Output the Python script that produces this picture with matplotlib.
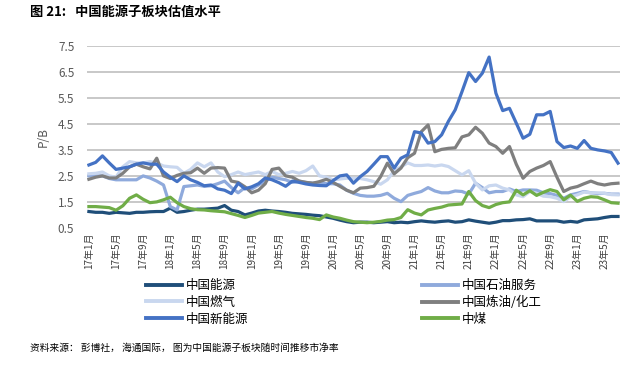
import numpy as np
import matplotlib
matplotlib.use("Agg")
import matplotlib.pyplot as plt
from matplotlib.lines import Line2D

plt.rcParams['font.family'] = ['Noto Sans CJK SC', 'DejaVu Sans']

# monthly P/B, 2017-01 .. 2023-07
energy = [1.13, 1.1, 1.1, 1.06, 1.1, 1.08, 1.06, 1.1, 1.1, 1.12, 1.13, 1.13, 1.26, 1.1, 1.13, 1.18,
          1.22, 1.22, 1.24, 1.26, 1.36, 1.18, 1.13, 1.0, 1.07, 1.15, 1.18, 1.15, 1.13, 1.1, 1.06, 1.04,
          1.02, 0.99, 0.97, 0.92, 0.87, 0.8, 0.74, 0.7, 0.72, 0.72, 0.7, 0.72, 0.74, 0.7, 0.72, 0.7,
          0.74, 0.77, 0.74, 0.72, 0.75, 0.77, 0.72, 0.74, 0.81, 0.76, 0.72, 0.68, 0.72, 0.78, 0.78, 0.81,
          0.82, 0.85, 0.77, 0.77, 0.77, 0.77, 0.72, 0.75, 0.72, 0.81, 0.83, 0.85, 0.9, 0.94, 0.94]
oil_service = [2.5, 2.5, 2.5, 2.4, 2.35, 2.35, 2.35, 2.35, 2.5, 2.42, 2.3, 2.15, 1.32, 1.19, 2.09, 2.12,
               2.15, 2.1, 2.12, 2.2, 2.3, 2.05, 1.85, 2.05, 2.0, 2.15, 2.3, 2.45, 2.4, 2.35, 2.25, 2.3,
               2.25, 2.22, 2.25, 2.2, 2.2, 2.15, 1.95, 1.83, 1.75, 1.72, 1.72, 1.75, 1.83, 1.64, 1.51, 1.75,
               1.83, 1.9, 2.05, 1.92, 1.85, 1.85, 1.92, 1.9, 1.8, 2.22, 2.05, 1.85, 1.9, 1.9, 2.0, 1.9,
               1.96, 1.96, 1.95, 1.85, 1.82, 1.75, 1.64, 1.77, 1.83, 1.9, 1.85, 1.82, 1.83, 1.8, 1.8]
gas = [2.58, 2.6, 2.65, 2.5, 2.45, 2.85, 3.05, 3.0, 3.0, 3.05, 3.0, 2.88, 2.85, 2.83, 2.6, 2.75,
       3.0, 2.85, 3.0, 2.65, 2.47, 2.55, 2.65, 2.55, 2.6, 2.65, 2.55, 2.67, 2.55, 2.6, 2.67, 2.6,
       2.7, 2.88, 2.5, 2.45, 2.35, 2.38, 2.41, 2.41, 2.4, 2.35, 2.28, 2.18, 2.35, 2.7, 2.85, 3.0,
       2.9, 2.9, 2.92, 2.88, 2.92, 2.86, 2.7, 2.54, 2.7, 2.22, 1.96, 2.12, 2.15, 2.03, 1.96, 1.77,
       1.7, 1.9, 1.83, 1.72, 1.7, 1.64, 1.51, 1.7, 1.77, 1.88, 1.85, 1.85, 1.83, 1.78, 1.77]
refining = [2.37, 2.45, 2.5, 2.42, 2.42, 2.6, 2.85, 2.95, 2.85, 2.77, 3.18, 2.5, 2.4, 2.52, 2.6, 2.62,
            2.8, 2.6, 2.8, 2.82, 2.8, 2.3, 2.25, 2.08, 1.85, 1.95, 2.2, 2.75, 2.8, 2.5, 2.45, 2.3,
            2.25, 2.22, 2.28, 2.37, 2.25, 2.1, 1.95, 1.85, 2.03, 2.05, 2.1, 2.47, 2.99, 2.58, 2.8, 3.2,
            3.37, 4.2, 4.46, 3.43, 3.52, 3.56, 3.58, 4.0, 4.08, 4.37, 4.14, 3.76, 3.63, 3.37, 3.63, 2.95,
            2.41, 2.67, 2.8, 2.9, 3.05, 2.45, 1.9, 2.03, 2.09, 2.2, 2.3, 2.2, 2.15, 2.2, 2.22]
new_energy = [2.92, 3.02, 3.27, 3.0, 2.75, 2.8, 2.85, 2.95, 3.0, 2.95, 2.95, 2.65, 2.45, 2.28, 2.5, 2.35,
              2.25, 2.12, 2.15, 2.0, 1.95, 1.82, 2.22, 2.0, 2.08, 2.2, 2.42, 2.35, 2.24, 2.1, 2.3, 2.25,
              2.19, 2.15, 2.13, 2.12, 2.32, 2.5, 2.54, 2.22, 2.47, 2.67, 2.95, 3.24, 3.24, 2.8, 3.18, 3.31,
              4.2, 4.15, 3.76, 3.82, 4.08, 4.6, 5.04, 5.74, 6.47, 6.13, 6.45, 7.07, 5.68, 5.01, 5.1, 4.53,
              3.95, 4.1, 4.85, 4.85, 4.98, 3.82, 3.59, 3.65, 3.56, 3.86, 3.56, 3.5, 3.46, 3.4, 2.99]
coal = [1.32, 1.32, 1.3, 1.28, 1.18, 1.35, 1.64, 1.77, 1.6, 1.47, 1.5, 1.58, 1.68, 1.47, 1.32, 1.24,
        1.2, 1.19, 1.16, 1.14, 1.12, 1.05, 0.98, 0.9, 0.98, 1.07, 1.1, 1.13, 1.07, 1.02, 0.98, 0.94,
        0.9, 0.87, 0.82, 1.0, 0.92, 0.87, 0.8, 0.74, 0.72, 0.7, 0.72, 0.75, 0.8, 0.82, 0.9, 1.2,
        1.07, 1.0, 1.19, 1.25, 1.3, 1.38, 1.4, 1.42, 1.9, 1.55, 1.36, 1.28, 1.4, 1.47, 1.5, 1.95,
        1.77, 1.93, 1.75, 1.87, 1.97, 1.9, 1.58, 1.76, 1.52, 1.64, 1.7, 1.68, 1.58, 1.47, 1.45]

names = ['中国能源', '中国石油服务', '中国燃气', '中国炼油/化工', '中国新能源', '中煤']
colors = ['#1f4e79', '#8faadc', '#c9d7ef', '#7f7f7f', '#4472c4', '#70ad47']
series = [energy, oil_service, gas, refining, new_energy, coal]

n = len(energy)
x = np.arange(n)
tick_pos = list(range(0, n, 4))
tick_labels = [f"{17 + i // 12}年{i % 12 + 1}月" for i in tick_pos]

fig = plt.figure(figsize=(6.34, 3.67), dpi=100)
ax = fig.add_axes([0.137, 0.379, 0.841, 0.496])

for yv in [1.5, 2.5, 3.5, 4.5, 5.5, 6.5, 7.5]:
    ax.axhline(yv, color='#c4c4c4', lw=1.3, zorder=0)

for s, c, nm in zip(series, colors, names):
    ax.plot(x, s, color=c, lw=2.3, label=nm)

ax.set_xlim(-0.3, 78.3)
ax.set_ylim(0.5, 7.5)
ax.set_yticks([0.5, 1.5, 2.5, 3.5, 4.5, 5.5, 6.5, 7.5])
ax.set_yticklabels(['0.5', '1.5', '2.5', '3.5', '4.5', '5.5', '6.5', '7.5'])
ax.set_xticks(tick_pos)
ax.set_xticklabels(tick_labels, rotation=90, fontsize=7.2, color='#404040')
ax.tick_params(axis='y', length=0, pad=9, labelsize=8.5, labelcolor='#595959')
ax.tick_params(axis='x', length=0, pad=3)
for sp in ax.spines.values():
    sp.set_visible(False)
ax.set_ylabel('P/B', fontsize=8.5, color='#595959', labelpad=6)

leg_kw = dict(frameon=False, fontsize=9, handlelength=2.9, handletextpad=0.25,
              labelspacing=0.3, borderaxespad=0, borderpad=0)
h1 = [Line2D([], [], color=colors[i], lw=2.8) for i in (0, 2, 4)]
fig.legend(h1, [names[i] for i in (0, 2, 4)], loc='upper left',
           bbox_to_anchor=(146 / 634, 1 - 279 / 367), **leg_kw)
h2 = [Line2D([], [], color=colors[i], lw=2.8) for i in (1, 3, 5)]
fig.legend(h2, [names[i] for i in (1, 3, 5)], loc='upper left',
           bbox_to_anchor=(422 / 634, 1 - 279 / 367), **leg_kw)

fig.text(30 / 634, 1 - 12 / 367, '图 21:   中国能源子板块估值水平', fontsize=9.5,
         fontweight='bold', va='center', ha='left')
fig.text(30 / 634, 1 - 348 / 367, '资料来源： 彭博社， 海通国际， 图为中国能源子板块随时间推移市净率',
         fontsize=7, va='center', ha='left')

fig.savefig('out.png', dpi=100)
